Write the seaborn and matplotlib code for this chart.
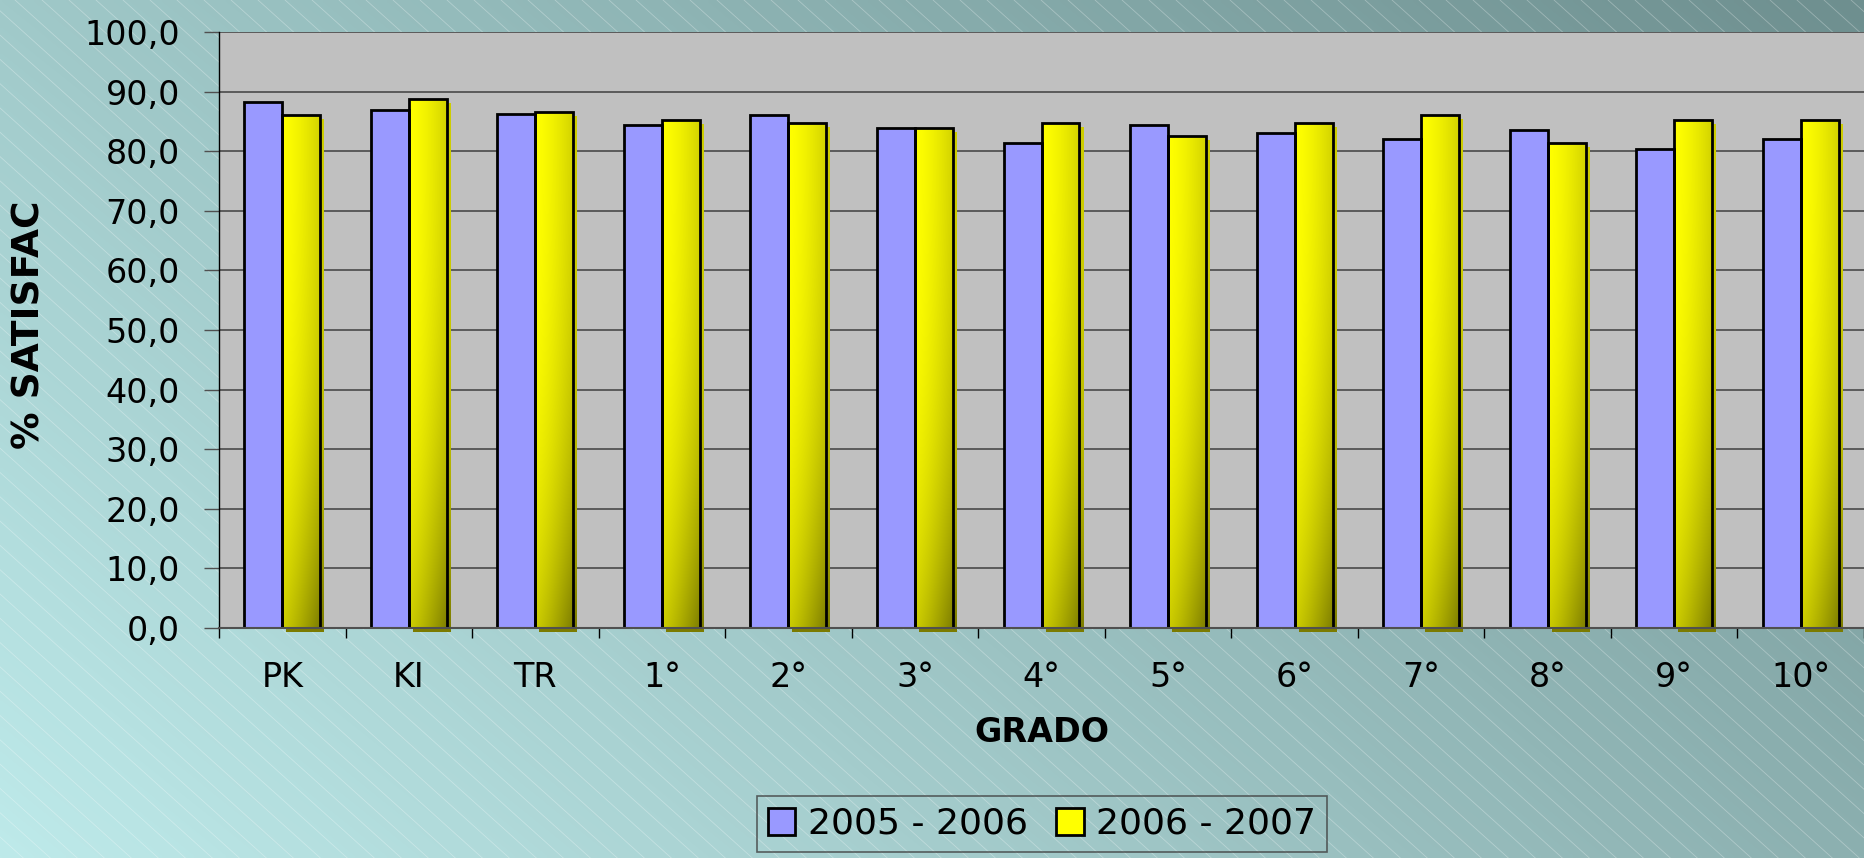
import numpy as np
import pandas as pd
import matplotlib
matplotlib.use("Agg")
import matplotlib.pyplot as plt
import matplotlib.transforms as mtransforms
from matplotlib.patches import Rectangle, Patch
from matplotlib.ticker import FuncFormatter, FixedLocator
import seaborn as sns

# ---------------- data ----------------
grados = ["PK", "KI", "TR", "1°", "2°", "3°", "4°", "5°", "6°", "7°", "8°", "9°", "10°"]
periodo_a = "2005 - 2006"
periodo_b = "2006 - 2007"
valores_a = [88.3, 86.9, 86.2, 84.4, 86.1, 83.9, 81.3, 84.4, 83.1, 82.1, 83.5, 80.4, 82.1]
valores_b = [86.1, 88.7, 86.5, 85.2, 84.8, 83.9, 84.8, 82.6, 84.8, 86.1, 81.3, 85.3, 85.3]
yticks = list(range(0, 101, 10))

df = pd.DataFrame({
    "grado": grados * 2,
    "valor": valores_a + valores_b,
    "periodo": [periodo_a] * len(grados) + [periodo_b] * len(grados),
})

sns.set_theme(style="white")
plt.rcParams["font.family"] = ["DejaVu Sans"]
plt.rcParams["text.color"] = "black"

W, H = 1864, 858
fig = plt.figure(figsize=(W / 100, H / 100), dpi=100)

# ---------------- background gradient + diagonal hatch ----------------
bg = fig.add_axes([0, 0, 1, 1], zorder=-10)
bg.set_axis_off()
nx, ny = 466, 215
u = np.linspace(0, 1, nx)[None, :]
v = np.linspace(1, 0, ny)[:, None]
R = 190 - 50 * u - 30 * v
G = 234 - 58 * u - 33 * v
img = np.stack([R, G, G], axis=-1) / 255.0
bg.imshow(img, extent=[0, W, 0, H], aspect="auto", interpolation="bilinear")
slope = 0.9
for x0 in np.arange(-1200, W + 30, 27):
    bg.plot([x0, x0 + H / slope], [H, 0], color="white", lw=0.6, alpha=0.3)
bg.set_xlim(0, W)
bg.set_ylim(0, H)

# ---------------- main axes ----------------
ax = fig.add_axes([219 / W, 1 - 628 / H, 1 - 219 / W, (628 - 32) / H])
blue = "#9999ff"
yellow = "#ffff00"
sns.barplot(data=df, x="grado", y="valor", hue="periodo", palette=[blue, yellow],
            width=0.6, edgecolor="black", linewidth=2, ax=ax, legend=False,
            saturation=1)

ax.set_facecolor("#c0c0c0")
ax.set_axisbelow(True)
ax.set_ylim(0, 100)
ax.set_xlim(-0.5, len(grados) - 0.5)
ax.set_yticks(yticks)
ax.yaxis.set_major_formatter(FuncFormatter(lambda val, pos: f"{val:.1f}".replace(".", ",")))
ax.grid(axis="y", color="#4a4a4a", lw=1.2)
ax.grid(axis="x", visible=False)
for s in ["top", "right"]:
    ax.spines[s].set_visible(False)
ax.spines["left"].set_color("black")
ax.spines["left"].set_linewidth(1.0)
ax.spines["bottom"].set_color("#505050")
ax.spines["bottom"].set_linewidth(1.5)

ax.set_xlabel("")
ax.set_ylabel("")
ax.tick_params(axis="y", which="major", left=True, length=11, width=1, color="#505050",
               labelsize=24, pad=17, labelcolor="black")
ax.tick_params(axis="x", which="major", bottom=True, length=0, labelsize=24, pad=24,
               labelcolor="black")
ax.xaxis.set_minor_locator(FixedLocator(np.arange(-0.5, len(grados), 1.0)))
ax.tick_params(axis="x", which="minor", bottom=True, length=7, width=1, color="black")

# ---------------- bar styling: blue flat, yellow gradient + shadow ----------------
for p in ax.containers[0]:
    p.set_zorder(2)

shadow_tr = ax.transData + mtransforms.ScaledTranslation(4 / 100, -4 / 100, fig.dpi_scale_trans)
for p in ax.containers[1]:
    x0, w, h = p.get_x(), p.get_width(), p.get_height()
    ny_, nx_ = 200, 40
    yy = np.linspace(h, 0, ny_)[:, None] / 100.0
    xx = np.linspace(0, 1, nx_)[None, :]
    wv = (1 - yy) ** 3.5
    top = 1 - 0.17 * xx ** 1.5
    bot = 0.80 - 0.30 * xx ** 1.2
    f = top * (1 - wv) + bot * wv
    arr = np.stack([f, f, np.zeros_like(f)], axis=-1)
    arr = np.clip(arr, 0, 1)

    # shadow
    sh = Rectangle((x0, 0), w, h, transform=shadow_tr, facecolor="none",
                   edgecolor="none", zorder=1.2, clip_on=False)
    ax.add_patch(sh)
    sh_arr = np.repeat(arr[:, -1:, :] * 0.97, nx_, axis=1)
    im2 = ax.imshow(sh_arr, extent=[x0, x0 + w, 0, h], aspect="auto",
                    interpolation="bilinear", zorder=1.2, transform=shadow_tr)
    im2.set_clip_path(sh)

    p.set_facecolor("none")
    p.set_zorder(2)
    im = ax.imshow(arr, extent=[x0, x0 + w, 0, h], aspect="auto",
                   interpolation="bilinear", zorder=1.5)
    im.set_clip_path(p)

ax.set_ylim(0, 100)
ax.set_xlim(-0.5, len(grados) - 0.5)
ax.set_aspect("auto")

# ---------------- labels ----------------
fig.text(0.5 * (219 + W) / W, 1 - 733 / H, "GRADO", ha="center", va="center",
         fontsize=24, fontweight="bold", color="black")
fig.text(30 / W, 1 - 325 / H, "% SATISFAC", ha="center", va="center",
         rotation=90, fontsize=27, fontweight="bold", color="black")

handles = [Patch(facecolor=blue, edgecolor="black", lw=2),
           Patch(facecolor=yellow, edgecolor="black", lw=2)]
leg = fig.legend(handles, [periodo_a, periodo_b], loc="center",
                 bbox_to_anchor=(1042 / W, 1 - 824 / H), ncol=2, frameon=True,
                 fancybox=False, edgecolor="#404040", facecolor="none",
                 fontsize=26, handlelength=0.75, handleheight=0.75,
                 columnspacing=0.8, handletextpad=0.35, borderpad=0.3,
                 labelcolor="black")
leg.get_frame().set_linewidth(1.2)

fig.savefig("out.png", dpi=100)
